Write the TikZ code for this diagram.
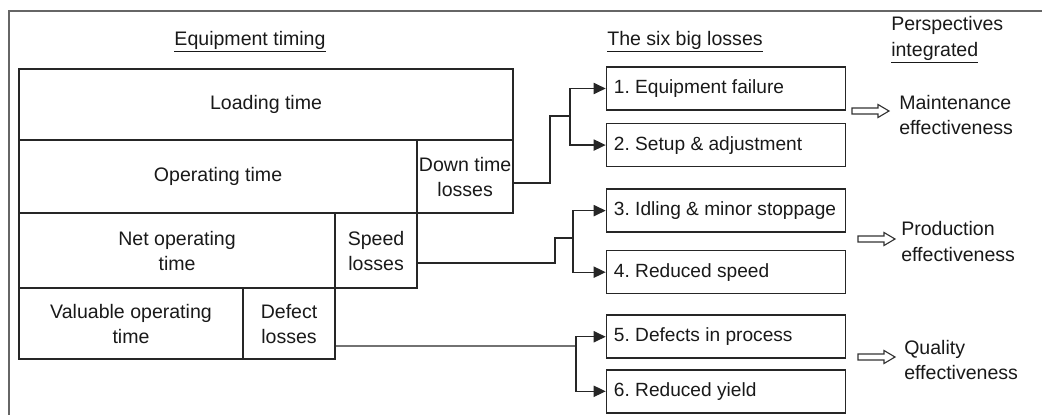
\documentclass[tikz,border=0pt]{standalone}
\usepackage{fontspec}
\setmainfont{Liberation Sans}
\usetikzlibrary{arrows.meta, positioning}
\tikzstyle{tbox} = [rectangle, draw=black!85, line width=1.1pt, outer sep=0pt, inner sep=0pt, align=center]
\tikzstyle{lossbox} = [rectangle, draw=black!85, line width=1.1pt, minimum width=5.975cm, minimum height=1.075cm, text width=5.6cm, inner xsep=0.1875cm, inner ysep=0pt, align=flush left, font=\fontsize{13.6}{17.8}\selectfont]
\tikzstyle{link} = [line width=0.9pt, draw=black!85]
\tikzstyle{arrow} = [link, -{Triangle[length=0.3cm, width=0.28cm]}]
\tikzstyle{hollow} = [line width=0.8pt, draw=black!80, fill=white]
\tikzstyle{frame} = [line width=1.1pt, draw=black!60]

% outlined block arrow, #1 = tail point
\newcommand{\hollowarrow}[1]{%
  \draw[hollow] (#1) -- ++(0,-3) -- ++(26,0) -- ++(0,-3.5) -- ++(11,6.5)
    -- ++(-11,6.5) -- ++(0,-3.5) -- ++(-26,0) -- cycle;}

\begin{document}
\frenchspacing
\begin{tikzpicture}[x=0.025cm, y=-0.025cm, every node/.style={font=\fontsize{13.9}{17.8}\selectfont, text=black!90}]
  \useasboundingbox (0,0) rectangle (1042,415);
  \draw[frame] (9,415) -- (9,11) -- (1042,11);

  % headings
  \node[anchor=base] (eqtitle) at (250,45) {\underline{Equipment timing}};
  \node[anchor=base] (losstitle) at (685,45) {\underline{The six big losses}};
  \node[anchor=base west, align=left, inner sep=0pt] (persp) at (891,56) {Perspectives\\\underline{integrated}};

  % equipment timing blocks
  \node[tbox, anchor=north west, minimum width=12.35cm, minimum height=1.775cm] (load) at (19,69) {Loading time};
  \node[tbox, anchor=north west, minimum width=9.95cm, minimum height=1.825cm] (oper) at (load.south west) {Operating time};
  \node[tbox, anchor=north west, minimum width=2.4cm, minimum height=1.825cm] (down) at (oper.north east) {Down time\\losses};
  \node[tbox, anchor=north west, minimum width=7.9cm, minimum height=1.875cm] (net) at (oper.south west) {Net operating\\time};
  \node[tbox, anchor=north west, minimum width=2.05cm, minimum height=1.875cm] (speed) at (net.north east) {Speed\\losses};
  \node[tbox, anchor=north west, minimum width=5.6cm, minimum height=1.775cm] (valu) at (net.south west) {Valuable operating\\time};
  \node[tbox, anchor=north west, minimum width=2.3cm, minimum height=1.775cm] (defect) at (valu.north east) {Defect\\losses};

  % six big losses
  \node[lossbox] (loss1) at (726,88.5) {1. Equipment failure};
  \node[lossbox, below=0.3cm of loss1] (loss2) {2. Setup \& adjustment};
  \node[lossbox, below=0.525cm of loss2] (loss3) {3. Idling \& minor stoppage};
  \node[lossbox, below=0.425cm of loss3] (loss4) {4. Reduced speed};
  \node[lossbox, below=0.5cm of loss4] (loss5) {5. Defects in process};
  \node[lossbox, below=0.25cm of loss5] (loss6) {6. Reduced yield};

  % perspectives
  \node[anchor=west, align=left, inner sep=0pt] (maint) at (899,115) {Maintenance\\effectiveness};
  \node[anchor=west, align=left, inner sep=0pt] (prod) at (901,241.5) {Production\\effectiveness};
  \node[anchor=west, align=left, inner sep=0pt] (qual) at (904,360) {Quality\\effectiveness};
  \hollowarrow{852,111}
  \hollowarrow{858,239}
  \hollowarrow{858,357}

  % loss branches
  \path (down.east) ++(0,6.5) coordinate (dt);
  \coordinate (b1) at (570,116);
  \draw[link] (dt) -- ++(37,0) |- (b1);
  \draw[arrow] (b1) |- (loss1);
  \draw[arrow] (b1) |- (loss2);

  \path (speed.east) ++(0,12.5) coordinate (sp);
  \coordinate (b2) at (573,238);
  \draw[link] (sp) -- ++(138,0) |- (b2);
  \draw[arrow] (b2) |- (loss3);
  \draw[arrow] (b2) |- (loss4);

  \path (defect.east) ++(0,22.5) coordinate (df);
  \coordinate (b3) at (576,346);
  \draw[link] (df) -- (b3);
  \draw[arrow] (b3) |- (loss5);
  \draw[arrow] (b3) |- (loss6);
\end{tikzpicture}
\end{document}
